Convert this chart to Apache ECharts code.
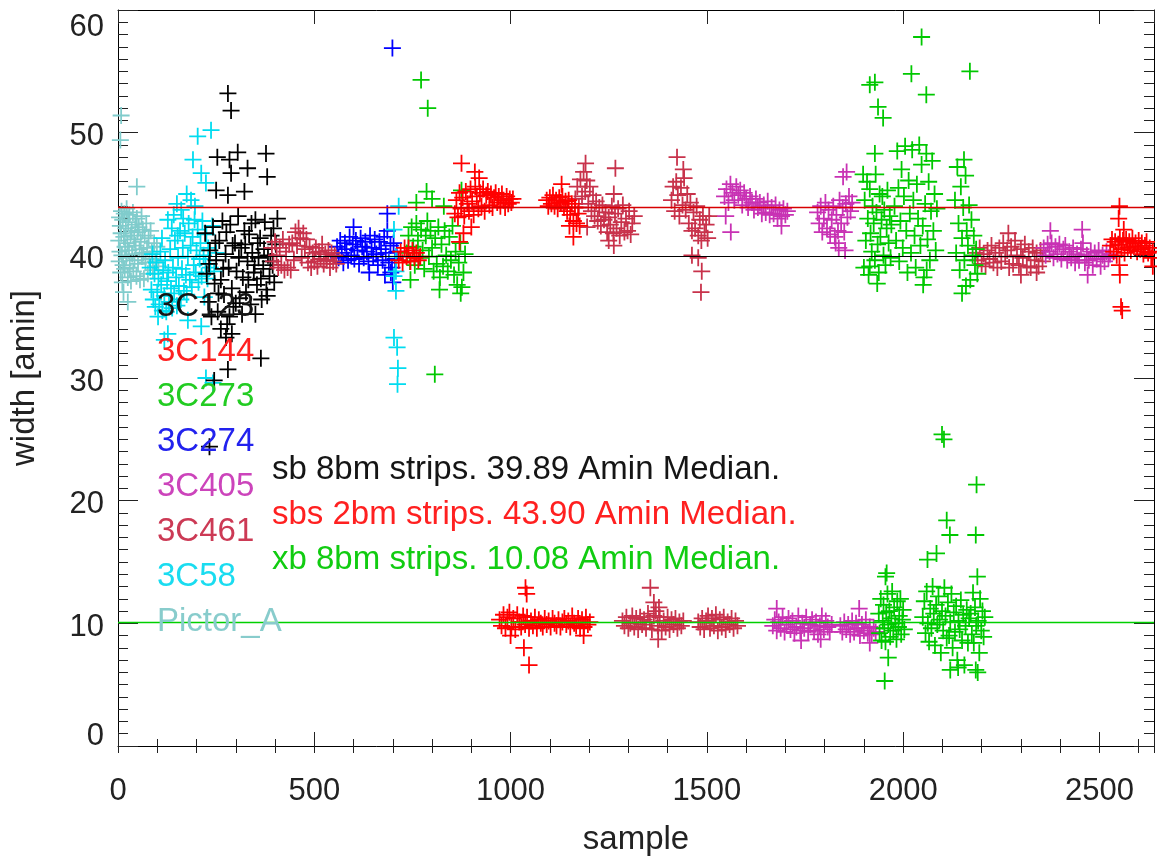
<!DOCTYPE html>
<html><head><meta charset="utf-8">
<script src="https://cdn.jsdelivr.net/npm/echarts@6/dist/echarts.min.js"></script>
<style>html,body{margin:0;padding:0;background:#fff}#c{width:1157px;height:861px}</style>
</head><body><div id="c"></div>
<script>
// ---------- data: [sample, width (amin)] ----------
const sources = ['3C123','3C144','3C273','3C274','3C405','3C461','3C58','Pictor_A'];

const ptsPictorA = [[2,41.2],[3,39.5],[4,43.1],[5,40.3],[6,42.4],[7,38.6],[8,41.8],[9,43.6],[10,40.0],[11,37.8],[12,42.9],[13,39.2],[15,41.5],[16,43.4],[17,38.9],[18,40.7],[20,42.2],[21,39.8],[22,43.8],[24,41.0],[25,38.2],[26,42.7],[28,40.4],[29,43.3],[30,39.0],[32,41.6],[33,37.9],[35,42.0],[36,40.1],[38,43.5],[39,38.7],[41,41.3],[42,39.6],[44,42.5],[45,40.8],[47,38.3],[48,43.0],[50,41.9],[51,39.3],[53,42.3],[55,40.5],[56,38.0],[58,41.1],[60,43.2],[61,39.9],[63,42.1],[65,40.2],[66,38.1],[68,41.6],[70,39.4],[72,42.6],[74,40.6],[76,38.5],[78,41.4],[80,39.7],[83,42.0],[86,40.3],[89,38.8],[92,41.0],[95,39.5],[99,40.7],[103,39.1],[8,51.4],[6,49.4],[48,45.6],[25,36.2],[14,37.0]];

const pts3C58 = [[82,39.0],[85,37.2],[88,40.1],[90,36.4],[93,38.5],[95,35.8],[98,39.4],[100,37.0],[103,38.1],[105,36.0],[108,40.3],[110,37.6],[113,35.5],[115,38.8],[118,36.7],[120,39.6],[123,35.4],[125,37.9],[128,38.6],[130,36.2],[133,40.5],[135,37.3],[138,35.7],[140,39.0],[143,36.9],[145,41.2],[148,38.2],[150,35.9],[153,39.8],[155,37.5],[158,42.0],[160,36.4],[163,38.9],[165,40.6],[168,37.1],[170,41.8],[173,38.4],[175,36.8],[178,39.9],[180,42.6],[183,38.0],[185,40.8],[188,37.4],[190,41.5],[193,39.2],[195,42.9],[198,38.6],[200,40.4],[203,42.1],[205,37.8],[208,39.7],[210,41.0],[213,38.3],[215,42.8],[218,40.0],[220,36.6],[223,39.3],[225,41.7],[228,38.1],[230,40.6],[235,39.0],[240,42.4],[245,38.7],[250,40.2],
  [112,41.4],[137,42.2],[152,41.6],[166,43.0],[142,43.3],[196,44.0],
  [127,42.9],[161,43.7],[186,44.5],[191,47.8],[203,49.7],[212,46.7],[224,45.9],[237,50.2],[150,44.2],[175,45.0],
  [127,33.6],[118,33.1],[102,35.0],[178,34.7],[212,34.2],[224,30.0],[242,29.6],
  [703,42.1],[715,44.0],[708,39.9],[708,38.7],[703,38.3],[708,37.1],[703,33.3],[711,32.5],[713,30.8],[712,29.5]];

const pts3C123 = [[222,41.8],[226,38.5],[230,36.2],[234,40.4],[238,35.0],[242,42.3],[246,37.7],[250,39.6],[254,35.4],[258,41.2],[262,38.0],[266,42.8],[270,36.8],[274,40.1],[278,34.4],[282,39.0],[286,42.5],[290,37.3],[294,35.8],[298,41.0],[302,38.7],[306,43.2],[310,36.5],[314,40.6],[318,38.2],[322,42.0],[326,37.0],[330,39.5],[334,41.7],[338,36.0],[342,40.2],[346,38.6],[350,42.9],[354,37.6],[358,39.8],[362,41.4],[366,36.4],[370,38.9],[374,42.7],[378,37.2],[382,40.0],[386,38.3],[390,41.6],[394,39.2],[398,37.8],[402,40.9],[406,43.0],
  [232,39.3],[248,41.0],[256,36.9],[268,38.9],[276,41.9],[284,35.0],[292,40.8],[300,36.1],[308,39.8],[316,35.2],[324,40.9],[332,38.0],[340,42.6],[348,39.2],[356,41.0],[364,38.1],[372,40.5],[380,36.7],[388,39.5],[396,42.2],
  [280,53.2],[288,51.8],[253,48.0],[305,48.4],[284,47.8],[288,46.7],[330,47.1],[377,48.3],[380,46.4],[250,45.3],[280,44.9],[322,45.2],[262,34.0],[275,33.3],[290,33.6],[350,35.2],[280,30.7],[245,29.8],[364,31.6],[233,24.4]];

const pts3C461 = [[392,40.6],[396,39.5],[400,41.1],[404,40.0],[408,39.0],[412,40.6],[416,39.2],[420,41.3],[424,38.8],[428,40.3],[432,39.0],[436,40.9],[440,38.8],[444,41.0],[448,39.6],[452,41.9],[456,40.8],[460,42.2],[464,41.4],[468,39.8],[472,41.8],[476,40.5],[480,41.3],[484,39.4],[488,40.7],[492,39.0],[496,40.2],[500,39.5],[504,40.6],[508,39.1],[512,40.3],[516,39.7],[520,40.9],[524,39.3],[528,40.1],[532,39.6],[536,40.4],[540,39.0],[544,40.2],[548,39.5],[552,40.0],[556,39.3],
  [1165,44.6],[1170,45.6],[1174,43.9],[1178,46.2],[1182,44.8],[1186,46.8],[1190,45.2],[1194,46.1],[1198,44.2],[1202,45.6],[1206,43.6],[1210,44.9],[1214,43.2],[1218,44.4],[1222,42.8],[1226,43.9],[1230,42.4],[1234,44.1],[1238,42.9],[1242,43.5],[1246,41.9],[1250,43.1],[1254,42.5],[1258,44.0],[1262,41.8],[1266,43.4],[1270,42.2],[1274,43.8],[1278,41.6],[1282,42.7],[1286,44.1],[1290,41.9],[1294,43.0],[1298,42.0],[1302,43.6],[1306,41.7],[1310,42.6],[1315,43.2],
  [1191,47.5],[1267,47.1],[1263,45.0],[1263,40.8],[1250,41.2],[1195,42.3],
  [1410,44.5],[1414,45.6],[1418,43.6],[1422,46.0],[1426,44.9],[1430,43.2],[1434,45.5],[1438,44.1],[1442,46.3],[1446,43.7],[1450,45.0],[1454,42.6],[1458,44.3],[1462,42.0],[1466,43.5],[1470,42.2],[1474,44.0],[1478,41.6],[1482,42.9],[1486,41.2],[1490,43.2],[1494,41.9],[1498,42.5],[1502,41.4],[1506,43.2],
  [1424,48.0],[1440,47.0],[1462,40.0],[1487,38.7],[1485,37.0],[1478,39.8],
  [2185,40.2],[2190,39.6],[2195,40.6],[2200,39.3],[2205,40.1],[2210,39.1],[2215,40.4],[2220,39.7],[2225,40.8],[2230,39.4],[2235,40.2],[2240,39.0],[2245,40.6],[2250,39.5],[2255,41.0],[2260,39.9],[2265,40.4],[2270,39.0],[2275,40.7],[2280,39.3],[2285,41.2],[2290,40.0],[2295,39.2],[2300,40.5],[2305,39.8],[2310,40.9],[2315,39.1],[2320,40.3],[2325,39.0],[2330,40.6],[2335,39.6],[2340,40.2],[2345,39.1],[2350,40.4],[2355,39.5],
  [2268,41.8],[2300,38.4],[2340,38.6],
  [1285,10.2],[1290,9.8],[1295,10.5],[1300,9.6],[1305,10.0],[1310,10.6],[1315,9.7],[1320,10.4],[1325,9.5],[1330,10.5],[1335,9.9],[1340,10.3],[1345,9.6],[1350,10.8],[1355,10.1],[1360,9.5],[1365,10.6],[1370,11.0],[1375,9.8],[1380,10.5],[1385,9.4],[1390,10.2],[1395,9.7],[1400,10.5],[1405,9.5],[1410,10.3],[1415,9.9],[1420,10.4],[1425,9.6],[1430,10.1],[1435,9.8],[1440,10.2],
  [1356,12.9],[1365,11.7],[1378,11.3],[1376,8.7],
  [1478,10.1],[1483,9.7],[1488,10.4],[1493,9.5],[1498,10.2],[1503,10.6],[1508,9.6],[1513,10.4],[1518,9.8],[1523,10.7],[1528,9.4],[1533,10.3],[1538,9.7],[1543,10.5],[1548,9.5],[1553,10.1],[1558,9.9],[1563,10.4],[1568,9.6],[1573,10.2],[1578,9.8]];

const pts3C405 = [[1545,44.8],[1550,45.4],[1555,44.3],[1560,45.8],[1565,45.1],[1570,44.5],[1575,45.6],[1580,44.9],[1585,45.3],[1590,44.1],[1595,45.1],[1600,44.6],[1605,43.9],[1610,44.8],[1615,44.3],[1620,43.7],[1625,44.6],[1630,43.9],[1635,44.3],[1640,43.4],[1645,44.1],[1650,43.5],[1655,44.4],[1660,43.3],[1665,43.9],[1670,43.4],[1675,44.1],[1680,43.0],[1685,43.7],[1690,43.2],[1695,43.8],[1700,43.3],[1705,43.6],
  [1561,41.9],[1548,43.2],[1690,42.4],
  [1782,43.5],[1786,42.6],[1790,44.0],[1794,41.9],[1798,43.0],[1802,44.3],[1806,42.2],[1810,43.7],[1814,41.7],[1818,42.9],[1822,44.0],[1826,41.5],[1830,43.3],[1834,42.0],[1838,44.5],[1842,42.6],[1846,43.9],[1850,41.9],[1854,44.2],[1858,43.1],[1862,44.8],[1866,43.6],[1870,44.3],
  [1847,46.4],[1856,46.8],[1852,40.4],[1836,40.6],[1828,41.0],
  [2358,40.6],[2363,40.0],[2368,40.9],[2373,40.3],[2378,41.0],[2383,39.8],[2388,40.7],[2393,40.1],[2398,40.9],[2403,39.7],[2408,40.5],[2413,40.8],[2418,39.6],[2423,40.3],[2428,39.8],[2433,40.6],[2438,39.4],[2443,40.1],[2448,39.6],[2453,40.5],[2458,41.0],[2463,39.4],[2468,40.0],[2473,39.6],[2478,40.3],[2483,39.2],[2488,40.2],[2493,39.7],[2498,40.4],[2503,39.1],[2508,40.0],[2513,39.5],[2518,40.3],[2523,39.8],[2527,40.1],
  [2375,42.0],[2456,42.1],[2470,38.4],
  [1668,9.8],[1673,10.3],[1678,9.4],[1683,10.1],[1688,9.6],[1693,10.5],[1698,9.3],[1703,9.9],[1708,10.4],[1713,9.5],[1718,10.2],[1723,9.2],[1728,9.7],[1733,10.6],[1738,9.4],[1743,10.0],[1748,9.6],[1753,10.5],[1758,9.3],[1763,9.9],[1768,10.3],[1773,9.4],[1778,10.1],[1783,9.1],[1788,9.8],[1793,10.6],[1798,9.5],[1803,10.2],[1808,9.7],[1813,9.3],[1818,9.9],
  [1678,11.2],[1740,8.6],[1790,8.7],
  [1840,9.8],[1845,9.3],[1850,10.1],[1855,9.5],[1860,9.9],[1865,9.1],[1870,10.2],[1875,9.3],[1880,10.0],[1885,9.6],[1890,9.0],[1895,9.9],[1900,9.4],[1905,10.3],[1910,9.2],[1915,9.7],[1920,9.1],[1925,9.6],[1930,9.3],
  [1888,11.2],[1915,8.4]];

const pts3C274 = [[558,40.7],[562,39.8],[566,41.2],[570,40.2],[574,39.4],[578,41.0],[582,40.5],[586,39.6],[590,41.5],[594,40.0],[598,40.9],[602,39.7],[606,41.2],[610,40.4],[614,39.3],[618,41.4],[622,40.7],[626,39.8],[630,41.1],[634,40.3],[638,39.5],[642,41.6],[646,40.6],[650,39.9],[654,41.3],[658,40.1],[662,39.2],[666,41.1],[670,40.5],[674,39.6],[678,41.5],[682,40.2],[686,42.0],[690,39.4],[694,40.8],[698,39.0],[702,41.0],[706,39.7],[710,40.3],
  [699,56.9],[686,43.4],[680,38.4],[700,37.8],[695,38.6],[640,38.6],[600,42.3]];

const pts3C144 = [[715,39.6],[720,40.3],[725,39.4],[730,40.6],[735,39.9],[740,40.6],[745,39.5],[750,40.4],[755,39.8],[760,40.2],[765,39.6],[770,39.9],
  [858,43.4],[862,44.5],[866,43.1],[870,45.1],[874,43.8],[878,44.7],[882,43.2],[886,45.2],[890,44.2],[894,43.6],[898,45.4],[902,44.4],[906,43.3],[910,45.6],[914,44.8],[918,43.8],[922,45.1],[926,44.0],[930,45.4],[934,43.6],[938,44.9],[942,45.2],[946,44.1],[950,45.0],[954,43.9],[958,44.7],[962,45.1],[966,44.3],[970,44.8],[974,44.0],[978,45.0],[982,44.5],[986,43.9],[990,44.8],[994,44.2],[998,44.6],[1002,44.3],[1006,44.6],
  [875,47.5],[909,46.8],[880,41.8],[870,41.1],[900,42.3],[920,46.3],[870,60.9],
  [1092,44.5],[1096,44.0],[1100,44.7],[1104,44.2],[1108,44.9],[1112,44.0],[1116,44.5],[1120,43.8],[1124,44.7],[1128,44.3],[1132,44.8],[1136,43.9],[1140,44.4],[1144,43.6],[1148,44.5],[1152,43.3],[1156,44.2],[1160,42.8],[1164,43.9],[1168,42.6],[1172,43.4],[1176,42.4],
  [1160,41.5],[1150,42.4],[1130,45.8],
  [972,10.3],[977,9.8],[982,10.7],[987,9.6],[992,10.5],[997,10.9],[1002,9.7],[1007,10.4],[1012,9.5],[1017,10.7],[1022,10.1],[1027,9.7],[1032,10.6],[1037,9.9],[1042,10.5],[1047,9.6],[1052,10.2],[1057,9.8],[1062,10.5],[1067,9.6],[1072,10.3],[1077,10.0],[1082,9.7],[1087,10.4],[1092,9.9],[1097,10.2],[1102,9.7],[1107,10.4],[1112,10.0],[1117,9.8],[1122,10.3],[1127,9.7],[1132,10.1],[1137,10.4],[1142,9.9],[1147,10.2],[1152,9.7],[1157,10.6],[1162,10.0],[1167,9.8],[1172,10.4],[1177,9.6],[1182,10.3],[1187,9.7],[1192,10.5],[1197,9.9],[1202,10.1],
  [1038,12.9],[1041,12.4],[1034,8.0],[1047,6.6],[1186,9.0],[1000,9.0],
  [2528,40.8],[2532,41.3],[2536,40.3],[2540,41.1],[2544,40.0],[2548,40.9],[2552,41.4],[2556,40.5],[2560,41.2],[2564,40.2],[2568,41.3],[2572,40.6],[2576,41.1],[2580,40.4],[2584,41.4],[2588,40.7],[2592,41.0],[2596,40.3],[2600,41.2],[2604,40.5],[2608,41.0],[2612,40.1],[2616,40.8],[2620,41.1],[2624,40.2],[2628,40.6],[2632,39.8],[2636,40.3],
  [2551,44.0],[2549,43.0],[2562,42.1],[2551,39.2],[2552,38.4],[2555,35.8],[2558,35.5],[2636,39.1]];

const pts3C273 = [[736,40.2],[740,41.6],[744,39.5],[748,42.3],[752,40.7],[756,39.2],[760,42.6],[764,41.2],[768,39.8],[772,42.1],[776,40.4],[780,38.9],[784,41.6],[788,42.8],[792,39.9],[796,42.0],[800,40.6],[804,38.7],[808,41.4],[812,39.3],[816,42.3],[820,38.2],[824,40.9],[828,39.1],[832,42.0],[836,40.0],[840,38.7],[844,41.5],[848,39.6],[852,42.4],[856,38.4],[860,40.3],[864,37.6],[868,39.4],[872,41.0],[876,37.4],[880,38.6],[884,40.1],
  [760,44.3],[786,45.2],[800,44.6],[875,45.3],[830,44.0],[819,37.2],[873,36.9],[772,54.3],[789,52.0],[807,30.3],[745,38.0],
  [1898,46.6],[1902,44.5],[1905,41.2],[1900,39.0],[1908,46.0],[1910,43.0],[1912,38.4],[1915,45.4],[1917,41.8],[1920,40.3],[1922,44.0],[1925,42.6],[1928,39.6],[1930,46.6],[1932,43.5],[1935,40.9],[1938,38.6],[1940,45.0],[1942,41.5],[1945,42.9],[1947,44.8],[1950,40.0],[1952,43.7],[1955,39.2],[1958,42.2],[1960,45.3],[1963,41.0],[1966,43.2],[1968,39.8],[1970,42.5],[1928,48.3],
  [1915,53.9],[1928,54.1],[1936,52.1],[1949,51.2],[1934,37.7],[1915,39.1],
  [1978,44.0],[1982,41.2],[1985,48.5],[1988,45.5],[1990,39.5],[1993,42.8],[1996,47.0],[1999,40.6],[2002,44.8],[2005,48.9],[2008,42.0],[2011,38.6],[2014,46.1],[2017,43.4],[2020,40.2],[2023,48.6],[2026,44.5],[2029,41.6],[2032,39.0],[2035,45.8],[2038,43.0],[2041,49.0],[2044,40.8],[2047,47.4],[2050,42.4],[2053,38.2],[2056,44.2],[2059,48.3],[2062,41.3],[2065,46.0],[2068,39.6],[2071,43.6],[2074,47.7],[2077,42.0],[2080,45.0],[2083,40.4],[2086,43.8],
  [2047,57.8],[2021,54.8],[2059,53.1],[2051,37.6],[2060,38.8],
  [2132,44.5],[2135,40.2],[2138,47.2],[2141,42.6],[2144,38.8],[2147,45.6],[2150,41.4],[2153,43.9],[2156,39.6],[2159,46.5],[2162,42.0],[2165,40.8],[2168,44.1],[2171,38.0],[2174,42.9],[2177,40.0],[2180,41.6],[2183,39.2],[2186,40.5],[2189,38.5],
  [2170,55.0],[2155,47.8],[2160,37.5],[2150,36.9],
  [1938,10.8],[1940,9.2],[1943,12.0],[1945,8.6],[1948,10.2],[1950,11.5],[1952,9.6],[1955,8.5],[1957,10.9],[1960,12.4],[1962,9.9],[1965,11.0],[1967,8.9],[1970,10.4],[1972,12.6],[1975,9.4],[1977,11.3],[1980,10.0],[1983,8.7],[1985,11.8],[1988,9.7],[1990,10.6],[1993,12.0],[1995,9.1],[1998,10.3],[2000,11.1],[2003,9.5],
  [1958,14.1],[1955,13.8],[1962,7.2],[1953,5.3],
  [2050,10.5],[2054,11.8],[2057,9.2],[2060,12.6],[2063,10.0],[2066,8.5],[2069,11.2],[2072,9.6],[2075,13.0],[2078,10.8],[2081,8.2],[2084,11.5],[2087,9.9],[2090,12.2],[2093,10.3],[2096,7.6],[2099,11.0],[2102,9.4],[2105,12.9],[2108,10.6],[2111,8.8],[2114,11.7],[2117,9.0],[2120,10.1],[2123,12.4],[2126,8.0],[2129,10.9],[2132,9.3],[2135,11.4],[2138,7.0],[2141,10.2],[2144,9.5],[2147,11.9],[2150,8.6],[2153,10.7],[2156,6.6],[2159,9.8],[2162,11.1],[2165,8.4],[2168,10.4],
  [2099,25.4],[2104,25.0],[2111,18.4],[2119,17.2],[2085,15.7],[2062,15.2],[2120,6.2],[2140,6.4],
  [2172,10.8],[2175,9.1],[2178,12.5],[2180,8.4],[2183,11.3],[2186,9.8],[2189,13.8],[2191,10.2],[2194,7.6],[2196,12.0],[2199,9.4],[2202,11.0],[2205,8.9],[2208,10.5],
  [2187,21.3],[2185,17.2],[2185,6.2],[2190,6.0]];

const medianValues = [39.89, 43.90, 10.08];
const medianNotes = ['sb 8bm strips. 39.89 Amin Median.', 'sbs 2bm strips. 43.90 Amin Median.', 'xb 8bm strips. 10.08 Amin Median.'];
const xTickLabels = [0, 500, 1000, 1500, 2000, 2500];
const yTickLabels = [0, 10, 20, 30, 40, 50, 60];

// ---------- styling ----------
const pointsBySource = {'3C123': pts3C123, '3C144': pts3C144, '3C273': pts3C273, '3C274': pts3C274,
  '3C405': pts3C405, '3C461': pts3C461, '3C58': pts3C58, 'Pictor_A': ptsPictorA};
const drawOrder = ['Pictor_A','3C274','3C58','3C123','3C461','3C405','3C273','3C144'];
const pointColor = {'3C123':'#000000','3C144':'#ff0000','3C273':'#00c800','3C274':'#0000ff',
  '3C405':'#c832b4','3C461':'#c8324b','3C58':'#00dcf0','Pictor_A':'#80cccc'};
const textColor = {'3C123':'#151515','3C144':'#ff2020','3C273':'#22cc22','3C274':'#2222ee',
  '3C405':'#cc44bb','3C461':'#cc3a55','3C58':'#1adcf0','Pictor_A':'#88cccc'};
const medianColor = ['#000000', '#d80000', '#00d000'];
const medianWidth = [1, 1.4, 1.4];
const medianTextColor = ['#151515', '#ff2020', '#11cc11'];

const FONT = '"Liberation Sans", Arial, Helvetica, sans-serif';
const PLUS = 'path://M0,8.95L20,8.95L20,11.05L0,11.05Z M8.95,0L11.05,0L11.05,20L8.95,20Z';
const XMAX = 2639;

const xBase = {type:'value', min:0, max:XMAX, splitLine:{show:false},
  axisLine:{show:true, onZero:false, lineStyle:{color:'#000', width:1}}};
const yBase = {type:'value', min:0, max:60, interval:10, splitLine:{show:false},
  axisLine:{show:true, onZero:false, lineStyle:{color:'#000', width:1}},
  axisTick:{inside:true, length:20, lineStyle:{color:'#222'}},
  minorTick:{show:true, splitNumber:10, length:10, lineStyle:{color:'#222'}}};

const series = drawOrder.map(name => ({
  type:'scatter', name, data: pointsBySource[name], xAxisIndex:0, yAxisIndex:0,
  symbol: PLUS, symbolSize: 17, itemStyle:{color: pointColor[name], opacity:1},
  emphasis:{disabled:true}, clip:true, silent:true
}));
series[series.length - 1].markLine = {
  silent:true, symbol:['none','none'], label:{show:false}, animation:false,
  data: medianValues.map((v, i) => ({yAxis: v, lineStyle:{color: medianColor[i], width: medianWidth[i], type:'solid'}}))
};

const graphics = [];
sources.forEach((name, i) => graphics.push({type:'text', x:157, y:307 + 45 * i, z:100,
  style:{text:name, fill:textColor[name], fontSize:33, fontFamily:FONT, verticalAlign:'middle', align:'left'}}));
medianNotes.forEach((t, i) => graphics.push({type:'text', x:272, y:469.5 + 45 * i, z:100,
  style:{text:t, fill:medianTextColor[i], fontSize:33, fontFamily:FONT, verticalAlign:'middle', align:'left'}}));

const option = {
  animation:false,
  backgroundColor:'#fff',
  grid:{left:117, right:2, top:10, bottom:114, containLabel:false},
  xAxis:[
    Object.assign({}, xBase, {position:'bottom', interval:500,
      axisTick:{inside:true, length:14, lineStyle:{color:'#222'}},
      axisLabel:{fontSize:31, color:'#222', fontFamily:FONT, margin:30,
        formatter: v => xTickLabels.includes(v) ? String(v) : ''},
      name:'sample', nameLocation:'middle', nameGap:77,
      nameTextStyle:{fontSize:33, color:'#222', fontFamily:FONT}}),
    Object.assign({}, xBase, {position:'bottom', interval:100, axisLine:{show:false},
      axisTick:{inside:true, length:7, lineStyle:{color:'#222'}}, axisLabel:{show:false}}),
    Object.assign({}, xBase, {position:'top', interval:500,
      axisTick:{inside:true, length:14, lineStyle:{color:'#222'}}, axisLabel:{show:false}}),
    Object.assign({}, xBase, {position:'top', interval:100, axisLine:{show:false},
      axisTick:{inside:true, length:7, lineStyle:{color:'#222'}}, axisLabel:{show:false}})
  ],
  yAxis:[
    Object.assign({}, yBase, {position:'left',
      axisLabel:{fontSize:31, color:'#222', fontFamily:FONT, margin:14,
        formatter: v => {
          if (!yTickLabels.includes(v)) return '';
          if (v === 60) return '{t|' + v + '}';
          if (v === 0) return '{b|' + v + '}';
          return '{m|' + v + '}';
        },
        rich:{
          t:{fontSize:31, color:'#222', fontFamily:FONT, padding:[34,0,0,0]},
          b:{fontSize:31, color:'#222', fontFamily:FONT, padding:[0,0,20,0]},
          m:{fontSize:31, color:'#222', fontFamily:FONT, padding:[8,0,0,0]}
        }},
      name:'width [amin]', nameLocation:'middle', nameGap:77, nameRotate:90,
      nameTextStyle:{fontSize:33, color:'#222', fontFamily:FONT}}),
    Object.assign({}, yBase, {position:'right', axisLabel:{show:false}})
  ],
  series,
  graphic: graphics
};

const chart = echarts.init(document.getElementById('c'), null, {renderer:'canvas'});
chart.setOption(option);
</script>
</body></html>
